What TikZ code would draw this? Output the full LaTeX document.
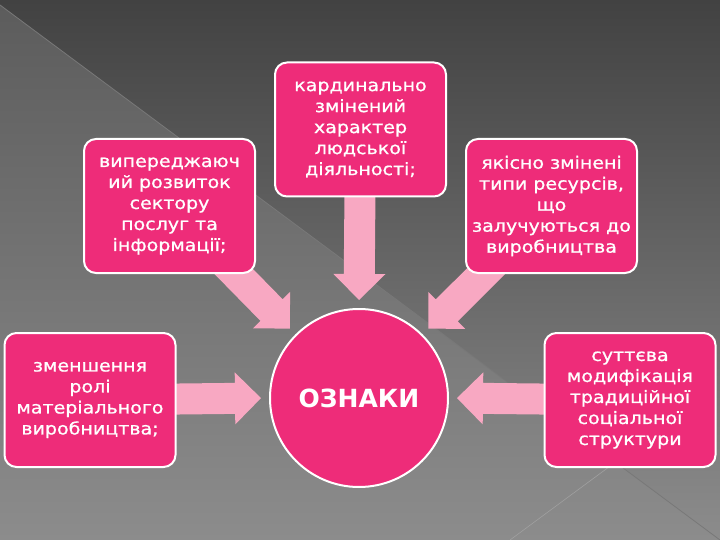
\documentclass[tikz,border=0pt]{standalone}
\usepackage{fontspec}
\setmainfont{DejaVu Sans}[FakeStretch=1.12, FakeBold=0.9]
\newfontfamily\hubfont{DejaVu Sans Bold}
\usetikzlibrary{calc}
\definecolor{boxpink}{RGB}{238,44,121}
\definecolor{arrowpink}{RGB}{248,168,194}
\definecolor{bgdark}{RGB}{66,66,66}
\definecolor{bgmid}{RGB}{92,92,92}
\definecolor{bglight}{RGB}{140,140,140}
\definecolor{bgline}{RGB}{120,120,120}
\pgfdeclarelayer{back}
\pgfdeclarelayer{mid}
\pgfsetlayers{back,mid,main}
\tikzset{
	ozbox/.style={draw=white, line width=2pt, fill=boxpink, rounded corners=12pt,
		minimum width=171pt, minimum height=134pt, inner sep=0pt, align=center,
		text=white, font=\fontsize{17}{21}\selectfont},
	hub/.style={circle, draw=white, line width=2pt, fill=boxpink, minimum size=178pt,
		inner sep=0pt, text=white, font=\hubfont\fontsize{25}{30}\selectfont},
	blockarrow/.style={fill=arrowpink}
}
% block arrow from #1 towards #2, tip 8pt before #2
\newcommand{\blockarr}[2]{%
	\coordinate (tip) at ($(#2)!8pt!(#1)$);
	\coordinate (base) at ($(tip)!26pt!(#1)$);
	\fill[blockarrow] ($(#1)!15.5pt!90:(tip)$) -- ($(base)!15.5pt!90:(tip)$)
		-- ($(base)!26pt!90:(tip)$) -- (tip) -- ($(base)!26pt!-90:(tip)$)
		-- ($(base)!15.5pt!-90:(tip)$) -- ($(#1)!15.5pt!-90:(tip)$) -- cycle;}

\begin{document}
\begin{tikzpicture}[x=1pt, y=-1pt]
	\useasboundingbox (0,0) rectangle (720,540);

	% background
	\begin{pgfonlayer}{back}
		\shade[top color=bgdark, bottom color=bglight] (0,0) rectangle (720,540);
		\shade[top color=bgmid, bottom color=bglight] (0,5) -- (720,540) -- (0,540) -- cycle;
		\draw[bgline, line width=0.8pt] (0,5) -- (720,540);
		\draw[bgline!70!white, line width=0.6pt] (617,461) -- (510,540);
	\end{pgfonlayer}

	% boxes
	\node[ozbox] (b1) at (169.5,206) {випереджаюч\\ий розвиток\\сектору\\послуг та\\інформації;};
	\node[ozbox] (b2) at (360.5,129.5) {кардинально\\змінений\\характер\\людської\\діяльності;};
	\node[ozbox] (b3) at (551.5,206) {якісно змінені\\типи ресурсів,\\що\\залучуються до\\виробництва};
	\node[ozbox] (b4) at (90,400) {зменшення\\ролі\\матеріального\\виробництва;};
	\node[ozbox] (b5) at (630,400) {суттєва\\модифікація\\традиційної\\соціальної\\структури};
	\node[hub] (hub) at (359,398) {ОЗНАКИ};

	% arrows behind the boxes
	\begin{pgfonlayer}{mid}
		\foreach \b/\a in {b1/north west, b2/north, b3/north east, b4/west, b5/east}
			{\blockarr{\b.center}{hub.\a}}
	\end{pgfonlayer}
\end{tikzpicture}
\end{document}
